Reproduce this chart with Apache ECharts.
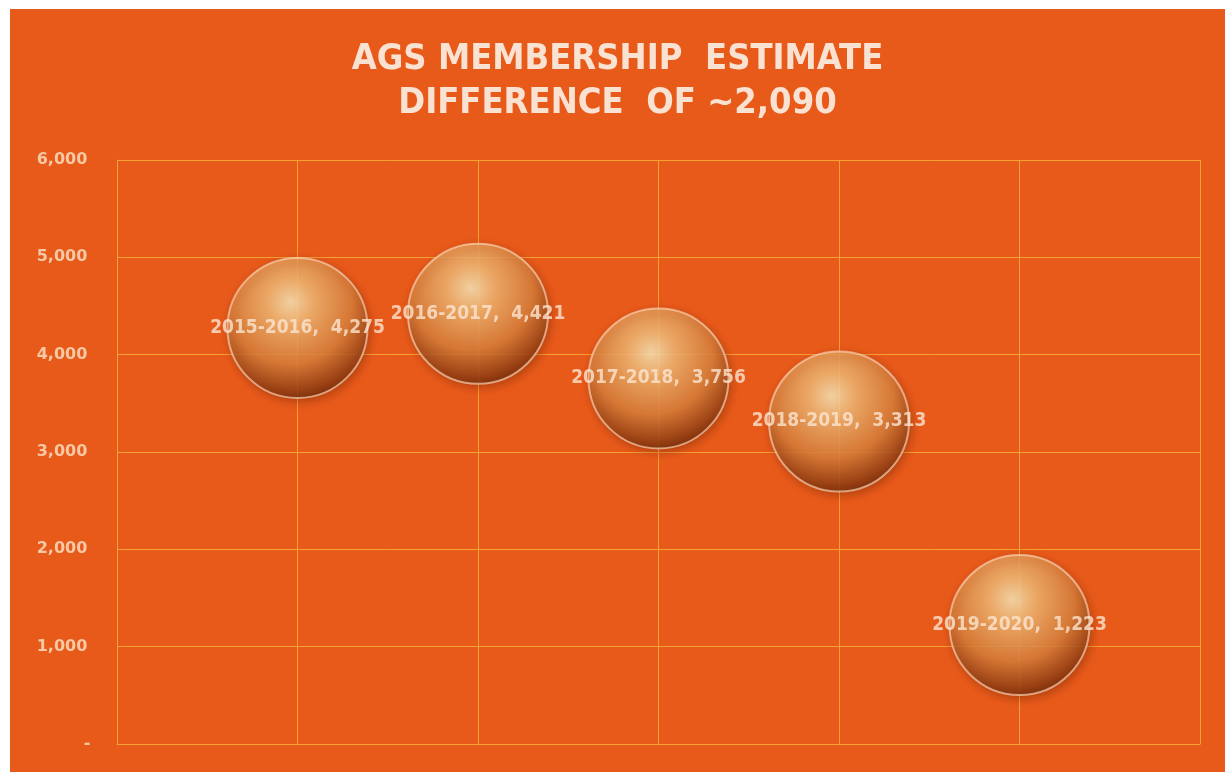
<!DOCTYPE html>
<html>
<head>
<meta charset="utf-8">
<script src="https://cdn.jsdelivr.net/npm/echarts@6/dist/echarts.min.js"></script>
<style>
  html, body { margin: 0; padding: 0; background: #ffffff; }
  #main {
    position: absolute;
    left: 10px;
    top: 9px;
    width: 1215px;
    height: 763px;
  }
</style>
</head>
<body>
<div id="main"></div>
<script>
// season labels and membership estimates
var seasons = ['2015-2016', '2016-2017', '2017-2018', '2018-2019', '2019-2020'];
var members = [4275, 4421, 3756, 3313, 1223];
var xPos = [1, 2, 3, 4, 5];
var yTicks = [0, 1000, 2000, 3000, 4000, 5000, 6000];

var mychart = echarts.init(document.getElementById('main'));

var points = [];
for (var i = 0; i < seasons.length; i++) {
  points.push({ value: [xPos[i], members[i]], name: seasons[i] });
}

var sphere = new echarts.graphic.RadialGradient(0.45, 0.32, 0.75, [
  { offset: 0, color: '#fff2c4' },
  { offset: 0.22, color: '#f8c07a' },
  { offset: 0.58, color: '#de843e' },
  { offset: 0.85, color: '#8e3c12' },
  { offset: 1, color: '#4a1a06' }
]);

var option = {
  backgroundColor: '#e85a1a',
  title: {
    text: 'AGS MEMBERSHIP  ESTIMATE\nDIFFERENCE  OF ~2,090',
    left: 'center',
    top: 24,
    textStyle: {
      color: '#fae2d2',
      fontFamily: 'DejaVu Sans Condensed, DejaVu Sans',
      fontWeight: 'bold',
      fontSize: 36,
      lineHeight: 44
    }
  },
  grid: {
    left: 107,
    right: 25,
    top: 151,
    bottom: 28
  },
  xAxis: {
    type: 'value',
    min: 0,
    max: 6,
    interval: 1,
    axisLabel: { show: false },
    axisTick: { show: false },
    axisLine: { show: true, lineStyle: { color: '#f4a234', width: 1 } },
    splitLine: { show: true, lineStyle: { color: '#f4a234', width: 1 } }
  },
  yAxis: {
    type: 'value',
    min: yTicks[0],
    max: yTicks[yTicks.length - 1],
    interval: 1000,
    axisTick: { show: false },
    axisLine: { show: true, lineStyle: { color: '#f4a234', width: 1 } },
    splitLine: { show: true, lineStyle: { color: '#f4a234', width: 1 } },
    axisLabel: {
      color: '#f6c9a4',
      fontFamily: 'DejaVu Sans',
      fontWeight: 'bold',
      fontSize: 16,
      margin: 55,
      align: 'center',
      formatter: function (val) {
        if (val === 0) return '         -';
        return val.toLocaleString('en-US');
      }
    }
  },
  series: [
    {
      type: 'scatter',
      data: points,
      symbolSize: 140,
      itemStyle: {
        color: sphere,
        borderColor: 'rgba(255, 228, 200, 0.75)',
        borderWidth: 2,
        shadowColor: 'rgba(90, 25, 0, 0.45)',
        shadowBlur: 8,
        shadowOffsetX: 2,
        shadowOffsetY: 3
      },
      label: {
        show: true,
        position: 'inside',
        color: '#fbe6d2',
        fontFamily: 'DejaVu Sans Condensed, DejaVu Sans',
        fontWeight: 'bold',
        fontSize: 19,
        formatter: function (p) {
          return p.name + ',  ' + p.value[1].toLocaleString('en-US');
        }
      },
      animation: false
    }
  ]
};

mychart.setOption(option);
</script>
</body>
</html>
